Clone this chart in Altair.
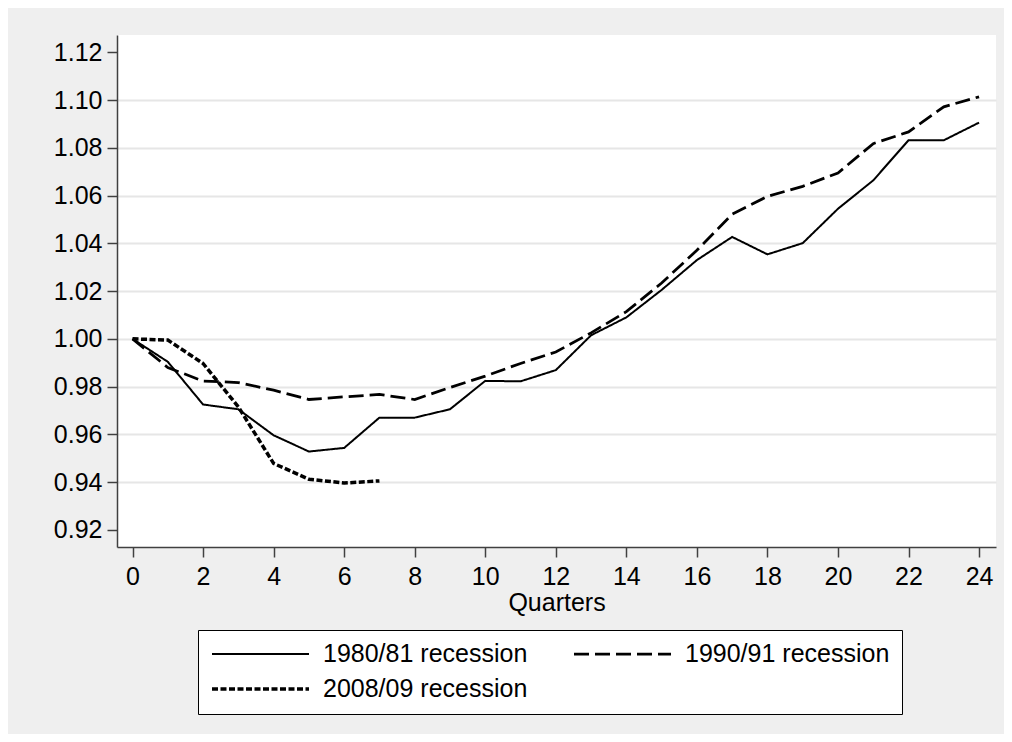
import altair as alt
import pandas as pd

quarters = list(range(25))
series_names = ["1980/81 recession", "1990/91 recession", "2008/09 recession"]

rec_1980 = [1.000, 0.9904, 0.9725, 0.9705, 0.9596, 0.9528, 0.9543, 0.9670, 0.9670,
            0.9705, 0.9824, 0.9822, 0.9869, 1.0015, 1.0090, 1.0205, 1.0330, 1.0427,
            1.0354, 1.0401, 1.0545, 1.0664, 1.0832, 1.0832, 1.0906]
rec_1990 = [1.000, 0.9880, 0.9823, 0.9817, 0.9785, 0.9746, 0.9757, 0.9767, 0.9746,
            0.9796, 0.9844, 0.9897, 0.9945, 1.0025, 1.0114, 1.0234, 1.0371, 1.0522,
            1.0597, 1.0639, 1.0695, 1.0818, 1.0867, 1.0972, 1.1014]
rec_2008 = [1.000, 0.9995, 0.9897, 0.9715, 0.9478, 0.9412, 0.9396, 0.9405]

y_ticks = [0.92, 0.94, 0.96, 0.98, 1.00, 1.02, 1.04, 1.06, 1.08, 1.10, 1.12]
x_ticks = [0, 2, 4, 6, 8, 10, 12, 14, 16, 18, 20, 22, 24]

frames = []
for name, vals in zip(series_names, [rec_1980, rec_1990, rec_2008]):
    frames.append(pd.DataFrame({"q": quarters[:len(vals)], "v": vals, "series": name}))
df = pd.concat(frames, ignore_index=True)

FONT = "Liberation Sans"
FS = 25

legend = alt.Legend(
    orient="none", legendX=81, legendY=595, columns=2, direction="horizontal",
    symbolType="stroke", symbolSize=9409, clipHeight=24, symbolStrokeColor="black",
    labelFontSize=FS, labelFont=FONT, labelColor="black", labelOffset=12, labelLimit=400,
    columnPadding=44, rowPadding=10, padding=12, strokeColor="black", fillColor="white",
    title=None,
)

chart = alt.Chart(df).mark_line(color="black").encode(
    x=alt.X("q:Q", scale=alt.Scale(domain=[-0.44, 24.48], nice=False, zero=False),
            axis=alt.Axis(values=x_ticks, format="d", title="Quarters", grid=False,
                          labelFontSize=FS, labelFont=FONT, labelColor="black",
                          titleFontSize=FS, titleFont=FONT, titleColor="black",
                          titleFontWeight="normal", titlePadding=1,
                          tickSize=10, labelPadding=7, domainColor="#404040",
                          tickColor="#404040", domainWidth=1.5, tickWidth=1.5)),
    y=alt.Y("v:Q", scale=alt.Scale(domain=[0.9128, 1.1273], nice=False, zero=False),
            axis=alt.Axis(values=y_ticks, format=".2f", title=None,
                          labelFontSize=FS, labelFont=FONT, labelColor="black",
                          tickSize=10, labelPadding=5, domainColor="#404040",
                          tickColor="#404040", domainWidth=1.5, tickWidth=1.5,
                          gridWidth=2,
                          gridColor={"condition": {"test": "datum.value < 0.93 || datum.value > 1.11",
                                                   "value": "transparent"},
                                     "value": "#e6e6e6"})),
    strokeDash=alt.StrokeDash("series:N",
                              scale=alt.Scale(domain=series_names,
                                              range=[[1, 0], [15, 6], [6, 2.5]]),
                              legend=legend),
    strokeWidth=alt.StrokeWidth("series:N",
                                scale=alt.Scale(domain=series_names, range=[2, 3.5, 5.5]),
                                legend=legend),
).properties(
    width=879, height=512,
    padding={"left": 109, "top": 27, "right": 8, "bottom": 187},
    autosize=alt.AutoSizeParams(type="none"),
    background="#efefef",
).configure_view(stroke=None, fill="white")

chart.save("out.html", embed_options={"renderer": "svg", "actions": False})
